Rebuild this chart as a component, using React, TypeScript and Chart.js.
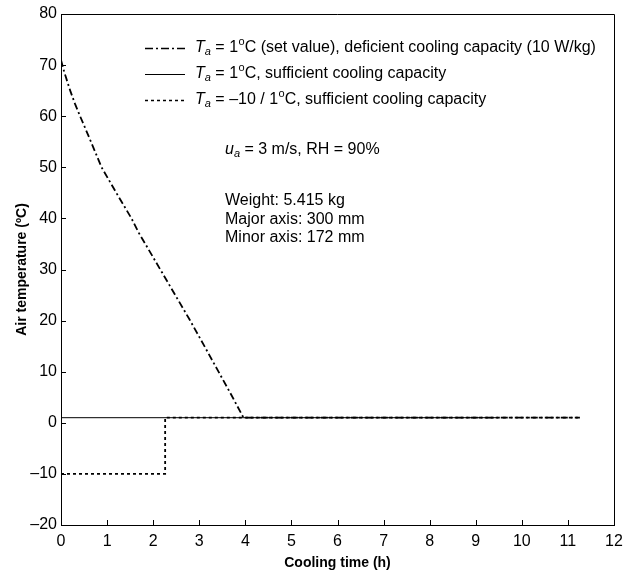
import React, { useEffect, useRef } from "react";
import { Chart, registerables } from "chart.js";

Chart.register(...registerables);

// Dash-dot series: Ta = 1 °C (set value), deficient cooling capacity
const dashDotTime = [0, 0.05, 0.1, 0.2, 0.3, 0.4, 0.5, 0.65, 0.88, 1.2, 1.53, 1.68, 2.2, 2.79, 3.1, 3.4, 3.7, 3.96, 11.26];
const dashDotTemp = [71, 69.3, 67.8, 65.0, 62.5, 60.3, 58.2, 55.0, 50, 45, 40, 37.3, 29.3, 20.2, 15.2, 10.3, 5.4, 1, 1];

// Solid series: Ta = 1 °C, sufficient cooling capacity
const solidTime = [0, 9.5];
const solidTemp = [1, 1];

// Dotted series: Ta = -10 / 1 °C, sufficient cooling capacity
const dottedTime = [0, 2.26, 2.26, 11.26];
const dottedTemp = [-10, -10, 1, 1];

const xTitle = "Cooling time (h)";
const yTitle = "Air temperature (ºC)";

const legendRows = [
  { pre: " = 1", post: "C (set value), deficient cooling capacity (10 W/kg)", dash: [8, 3, 2, 3], width: 1.6 },
  { pre: " = 1", post: "C, sufficient cooling capacity", dash: [], width: 1 },
  { pre: " = \u201310 / 1", post: "C, sufficient cooling capacity", dash: [3, 3], width: 1.6 },
];

const noteLine1 = " = 3 m/s, RH = 90%";
const noteLines = ["Weight: 5.415 kg", "Major axis: 300 mm", "Minor axis: 172 mm"];

const FONT = "'Liberation Sans', Arial, Helvetica, sans-serif";

const zip = (xs: number[], ys: number[]) => xs.map((x, i) => ({ x, y: ys[i] }));

const decorPlugin = {
  id: "decor",
  afterDraw(chart: any) {
    const ctx = chart.ctx as CanvasRenderingContext2D;
    const { left, right, top, bottom } = chart.chartArea;
    const xs = chart.scales.x;
    const ys = chart.scales.y;
    ctx.save();
    // frame
    ctx.strokeStyle = "#000";
    ctx.lineWidth = 1;
    ctx.setLineDash([]);
    ctx.beginPath();
    ctx.moveTo(left, top + 0.5);
    ctx.lineTo(right + 0.5, top + 0.5);
    ctx.lineTo(right + 0.5, bottom);
    ctx.stroke();
    // inward ticks
    ctx.beginPath();
    xs.ticks.forEach((t: any) => {
      const px = Math.round(xs.getPixelForValue(t.value)) + 0.5;
      ctx.moveTo(px, bottom);
      ctx.lineTo(px, bottom - 5);
    });
    ys.ticks.forEach((t: any) => {
      const py = Math.round(ys.getPixelForValue(t.value)) + 0.5;
      ctx.moveTo(left, py);
      ctx.lineTo(left + 5, py);
    });
    ctx.stroke();

    // legend
    const lx0 = 145, lx1 = 185, tx = 195;
    const rowY = [48, 74, 100];
    ctx.textBaseline = "middle";
    ctx.fillStyle = "#000";
    legendRows.forEach((r, i) => {
      const y = rowY[i];
      ctx.strokeStyle = "#000";
      ctx.lineWidth = r.width;
      ctx.setLineDash(r.dash);
      ctx.beginPath();
      ctx.moveTo(lx0, y + 0.5);
      ctx.lineTo(lx1, y + 0.5);
      ctx.stroke();
      ctx.setLineDash([]);
      let x = tx;
      ctx.font = `italic 16px ${FONT}`;
      ctx.fillText("T", x, y);
      x += ctx.measureText("T").width;
      ctx.font = `italic 11px ${FONT}`;
      ctx.fillText("a", x, y + 4);
      x += ctx.measureText("a").width;
      ctx.font = `16px ${FONT}`;
      ctx.fillText(r.pre, x, y);
      x += ctx.measureText(r.pre).width;
      ctx.font = `11px ${FONT}`;
      ctx.fillText("o", x + 0.5, y - 6);
      x += ctx.measureText("o").width + 0.5;
      ctx.font = `16px ${FONT}`;
      ctx.fillText(r.post, x, y);
    });

    // notes
    let nx = 225;
    const ny = 150;
    ctx.font = `italic 16px ${FONT}`;
    ctx.fillText("u", nx, ny);
    nx += ctx.measureText("u").width;
    ctx.font = `italic 11px ${FONT}`;
    ctx.fillText("a", nx, ny + 4);
    nx += ctx.measureText("a").width;
    ctx.font = `16px ${FONT}`;
    ctx.fillText(noteLine1, nx, ny);
    noteLines.forEach((s, i) => {
      ctx.fillText(s, 225, 201 + i * 18.5);
    });
    ctx.restore();
  },
};

export default function App() {
  const ref = useRef<HTMLCanvasElement | null>(null);
  useEffect(() => {
    document.body.style.margin = "0";
    const canvas = ref.current!;
    Chart.defaults.font.family = FONT;
    Chart.defaults.color = "#000";
    const chart = new Chart(canvas, {
      type: "scatter",
      data: {
        datasets: [
          {
            data: zip(solidTime, solidTemp),
            showLine: true,
            borderColor: "#000",
            borderWidth: 1,
            pointRadius: 0,
          },
          {
            data: zip(dottedTime, dottedTemp),
            showLine: true,
            borderColor: "#000",
            borderWidth: 1.8,
            borderDash: [3, 3],
            pointRadius: 0,
          },
          {
            data: zip(dashDotTime, dashDotTemp),
            showLine: true,
            borderColor: "#000",
            borderWidth: 1.8,
            borderDash: [7, 3, 2, 3],
            pointRadius: 0,
            tension: 0,
          },
        ],
      },
      options: {
        animation: false,
        responsive: false,
        devicePixelRatio: 1,
        layout: { padding: { top: 14, right: 19, left: 0, bottom: 0 } },
        plugins: { legend: { display: false }, tooltip: { enabled: false } },
        scales: {
          x: {
            type: "linear",
            min: 0,
            max: 12,
            afterFit: (s: any) => {
              s.height = 52;
            },
            ticks: { stepSize: 1, padding: 7, font: { size: 16 }, color: "#000", maxRotation: 0 },
            grid: { display: true, drawOnChartArea: false, drawTicks: false },
            border: { display: true, color: "#000", width: 1 },
            title: { display: true, text: xTitle, font: { size: 14, weight: "bold" }, color: "#000", padding: { top: 0, bottom: 5 } },
          },
          y: {
            type: "linear",
            min: -20,
            max: 80,
            afterFit: (s: any) => {
              s.width = 61;
            },
            ticks: {
              stepSize: 10,
              padding: 4,
              font: { size: 16 },
              color: "#000",
              callback: (v: any) => (Number(v) < 0 ? "\u2013" + Math.abs(Number(v)) : String(v)),
            },
            grid: { display: true, drawOnChartArea: false, drawTicks: false },
            border: { display: true, color: "#000", width: 1 },
            title: { display: true, text: yTitle, font: { size: 14, weight: "bold" }, color: "#000", padding: { top: 14, bottom: 0 } },
          },
        },
      },
      plugins: [decorPlugin],
    } as any);
    return () => chart.destroy();
  }, []);
  return (
    <div style={{ width: 633, height: 577 }}>
      <canvas ref={ref} width={633} height={577} style={{ display: "block", width: 633, height: 577 }} />
    </div>
  );
}
